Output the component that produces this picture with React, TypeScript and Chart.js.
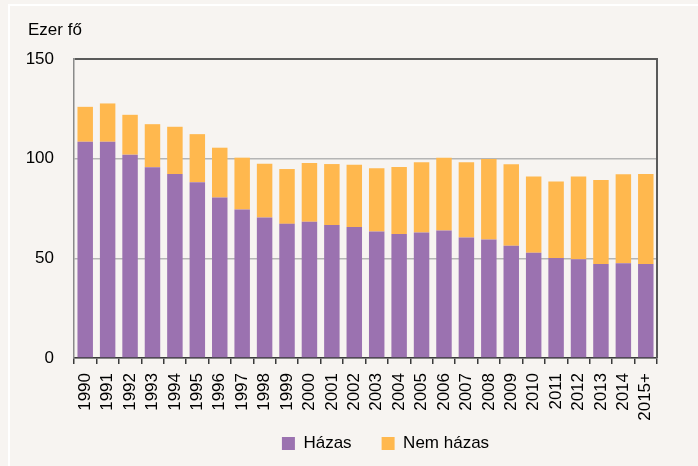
import { useEffect, useRef } from 'react';
import { Chart, registerables } from 'chart.js';

Chart.register(...registerables);

const years = ['1990', '1991', '1992', '1993', '1994', '1995', '1996', '1997', '1998', '1999', '2000', '2001', '2002', '2003', '2004', '2005', '2006', '2007', '2008', '2009', '2010', '2011', '2012', '2013', '2014', '2015+'];
const hazas = [108.5, 108.5, 102, 95.7, 92.3, 88.2, 80.5, 74.5, 70.5, 67.3, 68.3, 66.7, 65.7, 63.5, 62.2, 62.9, 64, 60.5, 59.5, 56.3, 52.8, 50.2, 49.5, 47.2, 47.5, 47.2];
const nemHazas = [17.5, 19.2, 20, 21.6, 23.7, 24.1, 25, 26, 27, 27.5, 29.5, 30.6, 31.3, 31.7, 33.6, 35.3, 36.5, 37.7, 40.3, 40.9, 38.2, 38.3, 41.5, 42.1, 44.7, 45.1];
const seriesNames = ['Házas', 'Nem házas'];
const yTitle = 'Ezer fő';
const yMin = 0;
const yMax = 150;
const yStep = 50;

const FONT = '"Liberation Sans", Arial, sans-serif';
const FS = 17;
const BG = '#f7f4f1';

export default function App() {
  const ref = useRef<HTMLCanvasElement>(null);

  useEffect(() => {
    document.body.style.margin = '0';
    document.body.style.background = BG;
    const canvas = ref.current;
    if (!canvas) return;

    const frame = {
      id: 'frame',
      afterDraw(chart: any) {
        const { ctx, chartArea } = chart;
        ctx.save();
        ctx.strokeStyle = '#5a5a5a';
        ctx.lineWidth = 2;
        ctx.beginPath();
        ctx.moveTo(chartArea.right, chartArea.top - 1);
        ctx.lineTo(chartArea.right, chartArea.bottom);
        ctx.stroke();
        ctx.restore();
      },
    };
    const shiftBoxes = {
      id: 'shiftBoxes',
      afterLayout(chart: any) {
        const lg = chart.legend;
        if (lg) {
          lg.left += 45;
          lg.right += 45;
          lg.top -= 17;
          lg.bottom -= 17;
        }
        const tb = chart.titleBlock;
        if (tb) {
          tb.left += 4;
          tb.right += 4;
        }
      },
    };

    const chart = new Chart(canvas, {
      type: 'bar',
      data: {
        labels: years,
        datasets: [
          {
            label: seriesNames[0],
            data: hazas,
            backgroundColor: '#9b72b0',
            borderWidth: 0,
            categoryPercentage: 1,
            barPercentage: 0.69,
          },
          {
            label: seriesNames[1],
            data: nemHazas,
            backgroundColor: '#ffb84e',
            borderWidth: 0,
            categoryPercentage: 1,
            barPercentage: 0.69,
          },
        ],
      },
      options: {
        responsive: false,
        animation: false,
        layout: { padding: { left: 24, right: 41, top: 0, bottom: -13 } },
        plugins: {
          title: {
            display: true,
            text: yTitle,
            align: 'start',
            color: '#000',
            font: { family: FONT, size: FS, weight: 'normal' },
            padding: { top: 20, bottom: 18.6 },
          },
          legend: {
            position: 'bottom',
            labels: {
              color: '#000',
              font: { family: FONT, size: FS },
              boxWidth: 13,
              boxHeight: 13,
              padding: 30,
            },
          },
          tooltip: { enabled: false },
        },
        scales: {
          x: {
            stacked: true,
            afterFit(scale: any) {
              scale.height = 64;
            },
            grid: {
              display: true,
              drawOnChartArea: false,
              drawTicks: true,
              tickLength: 6,
              color: '#3a3a3a',
              lineWidth: 1.5,
              offset: true,
            },
            border: { display: true, color: '#3a3a3a', width: 1.5 },
            ticks: {
              autoSkip: false,
              minRotation: 90,
              maxRotation: 90,
              padding: 9,
              color: '#000',
              font: { family: FONT, size: FS },
            },
          },
          y: {
            stacked: true,
            min: yMin,
            max: yMax,
            afterFit(scale: any) {
              scale.width = 50;
            },
            grid: {
              drawTicks: false,
              color: (c: any) => (c.tick && c.tick.value === yMax ? '#5a5a5a' : '#b5b5b5'),
              lineWidth: (c: any) => (c.tick && c.tick.value === yMax ? 2 : 1.5),
            },
            border: { display: true, color: '#8a8a8a', width: 1.5 },
            ticks: {
              stepSize: yStep,
              padding: 20,
              color: '#000',
              font: { family: FONT, size: FS },
            },
          },
        },
      },
      plugins: [frame, shiftBoxes],
    } as any);

    return () => chart.destroy();
  }, []);

  return (
    <div style={{ position: 'relative', width: 698, height: 466, background: BG, overflow: 'hidden' }}>
      <div style={{ position: 'absolute', left: 8, top: 4, width: 690, height: 2, background: '#fff' }} />
      <div style={{ position: 'absolute', left: 8, top: 4, width: 2, height: 462, background: '#fff' }} />
      <canvas ref={ref} width={698} height={466} style={{ position: 'absolute', left: 0, top: 0 }} />
    </div>
  );
}
